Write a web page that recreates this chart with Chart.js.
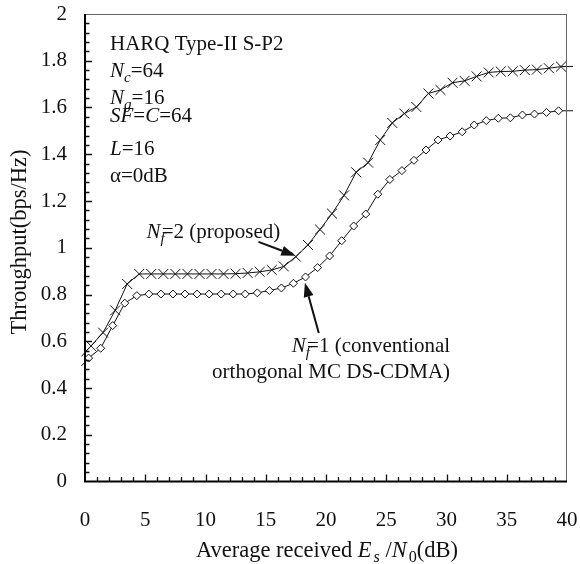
<!DOCTYPE html>
<html>
<head>
<meta charset="utf-8">
<script src="https://cdn.jsdelivr.net/npm/chart.js@4.4.1/dist/chart.umd.min.js"></script>
<style>
  html, body { margin: 0; padding: 0; background: #fff; }
  #wrap { width: 580px; height: 564px; position: relative; }
</style>
</head>
<body>
<div id="wrap"><canvas id="throughputChart"></canvas></div>
<script>
// Es/N0 (dB) where the markers sit
var snrNf2 = [0.5, 1.5, 2.5, 3.5, 4.5, 5.5, 6.5, 7.5, 8.5, 9.5,
              10.5, 11.5, 12.5, 13.5, 14.5, 15.5, 16.5, 17.5, 18.5, 19.5,
              20.5, 21.5, 22.5, 23.5, 24.5, 25.5, 26.5, 27.5, 28.5, 29.5,
              30.5, 31.5, 32.5, 33.5, 34.5, 35.5, 36.5, 37.5, 38.5, 39.5];
var snrNf1 = [0.3, 1.3, 2.3, 3.3, 4.3, 5.3, 6.3, 7.3, 8.3, 9.3,
              10.3, 11.3, 12.3, 13.3, 14.3, 15.3, 16.3, 17.3, 18.3, 19.3,
              20.3, 21.3, 22.3, 23.3, 24.3, 25.3, 26.3, 27.3, 28.3, 29.3,
              30.3, 31.3, 32.3, 33.3, 34.3, 35.3, 36.3, 37.3, 38.3, 39.3];

// throughput (bps/Hz)
var thrNf2 = [0.580, 0.637, 0.732, 0.845, 0.888, 0.888, 0.888, 0.888, 0.888, 0.888,
              0.888, 0.888, 0.889, 0.892, 0.897, 0.905, 0.920, 0.962, 1.012, 1.078,
              1.146, 1.224, 1.323, 1.364, 1.461, 1.534, 1.574, 1.602, 1.660, 1.675,
              1.706, 1.714, 1.733, 1.750, 1.754, 1.755, 1.760, 1.762, 1.768, 1.775];
var thrNf1 = [0.528, 0.570, 0.667, 0.763, 0.795, 0.802, 0.802, 0.802, 0.802, 0.802,
              0.802, 0.802, 0.802, 0.802, 0.807, 0.817, 0.828, 0.848, 0.875, 0.915,
              0.965, 1.030, 1.093, 1.144, 1.229, 1.292, 1.330, 1.374, 1.418, 1.461,
              1.478, 1.496, 1.525, 1.544, 1.554, 1.556, 1.568, 1.572, 1.579, 1.586];

// the curves run a little past both axes (no marker there)
var tailNf2 = [[-0.3, 0.535], [40.5, 1.776]];
var tailNf1 = [[-0.3, 0.494], [40.5, 1.586]];

var xTickValues = [0, 5, 10, 15, 20, 25, 30, 35, 40];
var yTickValues = [0, 0.2, 0.4, 0.6, 0.8, 1, 1.2, 1.4, 1.6, 1.8, 2];

var serif = '"Liberation Serif", "Times New Roman", serif';

function buildPoints(xs, ys, tail) {
    var pts = [{ x: tail[0][0], y: tail[0][1] }];
    for (var i = 0; i < xs.length; i++) {
        pts.push({ x: xs[i], y: ys[i] });
    }
    pts.push({ x: tail[1][0], y: tail[1][1] });
    return pts;
}

function radii(n, r) {
    var out = [0];
    for (var i = 0; i < n; i++) out.push(r);
    out.push(0);
    return out;
}

// text pieces: f = 'r' roman, 'i' italic, 's' subscript italic, 'sr' subscript roman
function pieceFont(p, size) {
    var sub = p.f === 's' || p.f === 'sr';
    var ital = p.f === 'i' || p.f === 's';
    return (ital ? 'italic ' : '') + (sub ? size * 0.72 : size) + 'px ' + serif;
}

function richWidth(ctx, parts, size) {
    var w = 0;
    parts.forEach(function (p) {
        ctx.font = pieceFont(p, size);
        w += ctx.measureText(p.t).width + (p.dx || 0);
    });
    return w;
}

function drawRich(ctx, parts, x, y, size, align) {
    if (align === 'right') x -= richWidth(ctx, parts, size);
    if (align === 'center') x -= richWidth(ctx, parts, size) / 2;
    ctx.textAlign = 'left';
    ctx.textBaseline = 'alphabetic';
    parts.forEach(function (p) {
        var sub = p.f === 's' || p.f === 'sr';
        ctx.font = pieceFont(p, size);
        x += (p.dx || 0);
        ctx.fillText(p.t, x, sub ? y + size * 0.24 : y);
        x += ctx.measureText(p.t).width;
    });
}

function arrow(ctx, x0, y0, x1, y1) {
    var ang = Math.atan2(y1 - y0, x1 - x0), len = 14, half = 5;
    var bx = x1 - Math.cos(ang) * len, by = y1 - Math.sin(ang) * len;
    ctx.lineWidth = 2;
    ctx.beginPath();
    ctx.moveTo(x0, y0);
    ctx.lineTo(bx, by);
    ctx.stroke();
    ctx.beginPath();
    ctx.moveTo(x1, y1);
    ctx.lineTo(bx + Math.sin(ang) * half, by - Math.cos(ang) * half);
    ctx.lineTo(bx - Math.sin(ang) * half, by + Math.cos(ang) * half);
    ctx.closePath();
    ctx.fill();
}

function noPadding(s) {
    s.paddingTop = 0;
    s.paddingBottom = 0;
    s.paddingLeft = 0;
    s.paddingRight = 0;
}

var decorPlugin = {
    id: 'decor',
    afterDraw: function (chart) {
        var c = chart.ctx,
            a = chart.chartArea,
            xs = chart.scales.x,
            ys = chart.scales.y,
            fs = 21;

        c.save();

        // top / right frame (thin, grey)
        c.strokeStyle = '#666';
        c.lineWidth = 1;
        c.beginPath();
        c.moveTo(a.left, a.top + 0.5);
        c.lineTo(a.right, a.top + 0.5);
        c.moveTo(a.right - 0.5, a.top);
        c.lineTo(a.right - 0.5, a.bottom);
        c.stroke();

        // inward ticks
        c.strokeStyle = '#111';
        c.lineWidth = 1.3;
        c.beginPath();
        for (var d = 1; d < 40; d++) {
            var px = Math.round(xs.getPixelForValue(d)) + 0.5;
            c.moveTo(px, a.bottom);
            c.lineTo(px, a.bottom - (d % 5 === 0 ? 7 : 4.5));
        }
        for (var i = 1; i < 50; i++) {
            var py = Math.round(ys.getPixelForValue(i * 0.04)) + 0.5;
            c.moveTo(a.left, py);
            c.lineTo(a.left + (i % 5 === 0 ? 7 : 4.5), py);
        }
        c.stroke();

        // left / bottom axes (black, thicker)
        c.strokeStyle = '#000';
        c.lineWidth = 2;
        c.beginPath();
        c.moveTo(a.left, a.top);
        c.lineTo(a.left, a.bottom);
        c.lineTo(a.right, a.bottom);
        c.stroke();

        c.fillStyle = '#111';
        c.strokeStyle = '#111';

        // parameter block
        var bx = a.left + 25;
        drawRich(c, [{ t: 'HARQ Type-II S-P2', f: 'r' }], bx, a.top + 36, fs);
        drawRich(c, [{ t: 'N', f: 'i' }, { t: 'c', f: 's' }, { t: '=64', f: 'r' }], bx, a.top + 63, fs);
        drawRich(c, [{ t: 'N', f: 'i' }, { t: 'g', f: 's' }, { t: '=16', f: 'r' }], bx, a.top + 90, fs);
        drawRich(c, [{ t: 'SF', f: 'i' }, { t: '=', f: 'r' }, { t: 'C', f: 'i' }, { t: '=64', f: 'r' }], bx, a.top + 108, fs);
        drawRich(c, [{ t: 'L', f: 'i' }, { t: '=16', f: 'r' }], bx, a.top + 141, fs);
        drawRich(c, [{ t: 'α=0dB', f: 'r' }], bx, a.top + 168, fs);

        // N_f = 2 label and arrow
        drawRich(c, [{ t: 'N', f: 'i' }, { t: 'f', f: 's' }, { t: '=2 (proposed)', f: 'r', dx: -3 }],
                 xs.getPixelForValue(5.1), ys.getPixelForValue(1.042), fs);
        arrow(c, xs.getPixelForValue(14.4), ys.getPixelForValue(1.025),
                 xs.getPixelForValue(17.45), ys.getPixelForValue(0.966));

        // N_f = 1 label and arrow
        var rx = xs.getPixelForValue(30.3);
        drawRich(c, [{ t: 'N', f: 'i' }, { t: 'f', f: 's' }, { t: '=1 (conventional', f: 'r', dx: -3 }],
                 rx, ys.getPixelForValue(0.554), fs, 'right');
        drawRich(c, [{ t: 'orthogonal MC DS-CDMA)', f: 'r' }], rx, ys.getPixelForValue(0.443), fs, 'right');
        arrow(c, xs.getPixelForValue(19.4), ys.getPixelForValue(0.635),
                 xs.getPixelForValue(18.25), ys.getPixelForValue(0.85));

        // x-axis title
        drawRich(c, [{ t: 'Average received ', f: 'r' }, { t: 'E', f: 'i' }, { t: 's', f: 's', dx: 2 },
                     { t: ' /', f: 'r' }, { t: 'N', f: 'i' }, { t: '0', f: 'sr', dx: 2 }, { t: '(dB)', f: 'r' }],
                 (a.left + a.right) / 2 + 1, chart.height - 7, 22.5, 'center');

        // y-axis title
        c.translate(20, 242);
        c.rotate(-Math.PI / 2);
        c.font = '22.5px ' + serif;
        c.textAlign = 'center';
        c.textBaseline = 'middle';
        c.fillText('Throughput(bps/Hz)', 0, 0);

        c.restore();
    }
};

var ctx = document.getElementById('throughputChart').getContext('2d');

var throughputChart = new Chart(ctx, {
    type: 'line',
    data: {
        datasets: [{
            label: 'Nf=2 (proposed)',
            data: buildPoints(snrNf2, thrNf2, tailNf2),
            borderColor: '#111',
            borderWidth: 1,
            tension: 0,
            fill: false,
            pointStyle: 'crossRot',
            pointRadius: radii(snrNf2.length, 7),
            pointBorderColor: '#111',
            pointBorderWidth: 1,
            clip: { left: 6, right: 8, top: 0, bottom: 0 }
        }, {
            label: 'Nf=1 (conventional orthogonal MC DS-CDMA)',
            data: buildPoints(snrNf1, thrNf1, tailNf1),
            borderColor: '#111',
            borderWidth: 1,
            tension: 0,
            fill: false,
            pointStyle: 'rectRot',
            pointRadius: radii(snrNf1.length, 4),
            pointBackgroundColor: '#fff',
            pointBorderColor: '#111',
            pointBorderWidth: 1,
            clip: { left: 6, right: 8, top: 0, bottom: 0 }
        }]
    },
    options: {
        responsive: true,
        maintainAspectRatio: false,
        animation: false,
        events: [],
        layout: { padding: { top: 14, right: 13, left: 0, bottom: 0 } },
        plugins: {
            legend: { display: false },
            tooltip: { enabled: false }
        },
        scales: {
            x: {
                type: 'linear',
                min: 0,
                max: 40,
                grid: { display: false, drawTicks: false },
                border: { display: false },
                afterBuildTicks: function (s) {
                    s.ticks = xTickValues.map(function (v) { return { value: v }; });
                },
                afterFit: function (s) { s.height = 82.5; noPadding(s); },
                ticks: {
                    padding: 26,
                    maxRotation: 0,
                    autoSkip: false,
                    color: '#111',
                    font: { family: serif, size: 21 },
                    callback: function (v) { return String(v); }
                }
            },
            y: {
                type: 'linear',
                min: 0,
                max: 2,
                grid: { display: false, drawTicks: false },
                border: { display: false },
                afterBuildTicks: function (s) {
                    s.ticks = yTickValues.map(function (v) { return { value: v }; });
                },
                afterFit: function (s) { s.width = 85; noPadding(s); },
                ticks: {
                    padding: 18,
                    autoSkip: false,
                    color: '#111',
                    font: { family: serif, size: 21 },
                    callback: function (v) { return String(v); }
                }
            }
        }
    },
    plugins: [decorPlugin]
});
</script>
</body>
</html>
